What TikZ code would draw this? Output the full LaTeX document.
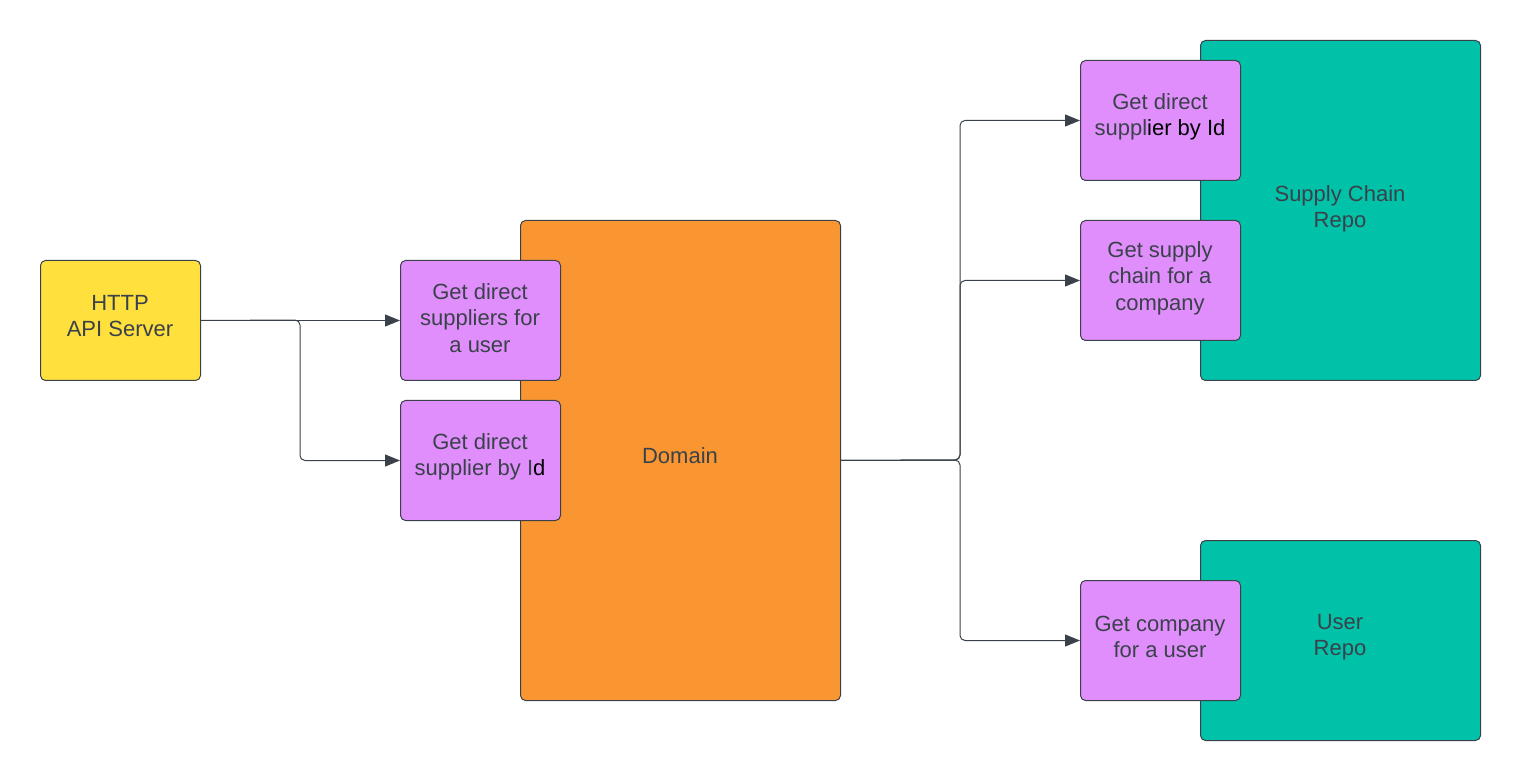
\documentclass[tikz,border=0pt]{standalone}
\usepackage{fontspec}
\setmainfont{Liberation Sans}
\usetikzlibrary{arrows.meta}
\definecolor{txt}{HTML}{3A414A}
\definecolor{edge}{HTML}{3A414A}
\definecolor{yel}{HTML}{FFE03D}
\definecolor{pur}{HTML}{E08EFC}
\definecolor{ora}{HTML}{F99632}
\definecolor{tea}{HTML}{00C2A8}
\tikzset{
  box/.style={draw=edge, line width=0.5pt, rounded corners=2.5pt, inner sep=0pt, anchor=north west, text=txt, align=center},
  conn/.style={draw=edge, line width=0.5pt, rounded corners=2.5pt, -{Triangle[length=7.5pt,width=6pt]}},
  lbl/.style={text=txt, align=center, font=\fontsize{11pt}{13.2pt}\selectfont}
}
\begin{document}
\begin{tikzpicture}[x=0.5pt,y=-0.5pt]
\useasboundingbox (0,0) rectangle (1520,780);
% big containers
\node[box, fill=ora, minimum width=160pt, minimum height=240pt] (dom) at (520,220) {};
\node[lbl] (domlbl) at (680,456) {Domain};
\node[box, fill=tea, minimum width=140pt, minimum height=170pt] (scr) at (1200,40) {};
\node[lbl] (scrlbl) at (1340,209) {Supply Chain\\Repo};
\node[box, fill=tea, minimum width=140pt, minimum height=100pt] (ur) at (1200,540) {};
\node[lbl] (urlbl) at (1340,637) {User\\Repo};
% http
\node[box, fill=yel, minimum width=80pt, minimum height=60pt] (http) at (40,260) {};
\node[lbl] (httplbl) at (120,316) {HTTP\\API Server};
% left purple
\node[box, fill=pur, minimum width=80pt, minimum height=60pt] (p1) at (400,260) {};
\node[lbl] (p1lbl) at (480,318) {Get direct\\suppliers for\\a user};
\node[box, fill=pur, minimum width=80pt, minimum height=60pt] (p2) at (400,400) {};
\node[lbl] (p2lbl) at (480,457) {Get direct\\supplier by I\textcolor{black}{d}};
% right purple
\node[box, fill=pur, minimum width=80pt, minimum height=60pt] (r1) at (1080,60) {};
\node[lbl] (r1lbl) at (1160,117) {Get direct\\suppl\textcolor{black}{ier by Id}};
\node[box, fill=pur, minimum width=80pt, minimum height=60pt] (r2) at (1080,220) {};
\node[lbl] (r2lbl) at (1160,278) {Get supply\\chain for a\\company};
\node[box, fill=pur, minimum width=80pt, minimum height=60pt] (r3) at (1080,580) {};
\node[lbl] (r3lbl) at (1160,637) {Get company\\for a user};
% connectors
\coordinate (hj) at (300,320);
\coordinate (dj) at (960,460);
\draw[conn] (http.east) -- (p1.west);
\draw[conn] (http.east) -- (hj) |- (p2.west);
\draw[conn] (dom.east) -- (dj) |- (r1.west);
\draw[conn] (dom.east) -- (dj) |- (r2.west);
\draw[conn] (dom.east) -- (dj) |- (r3.west);
\end{tikzpicture}
\end{document}
